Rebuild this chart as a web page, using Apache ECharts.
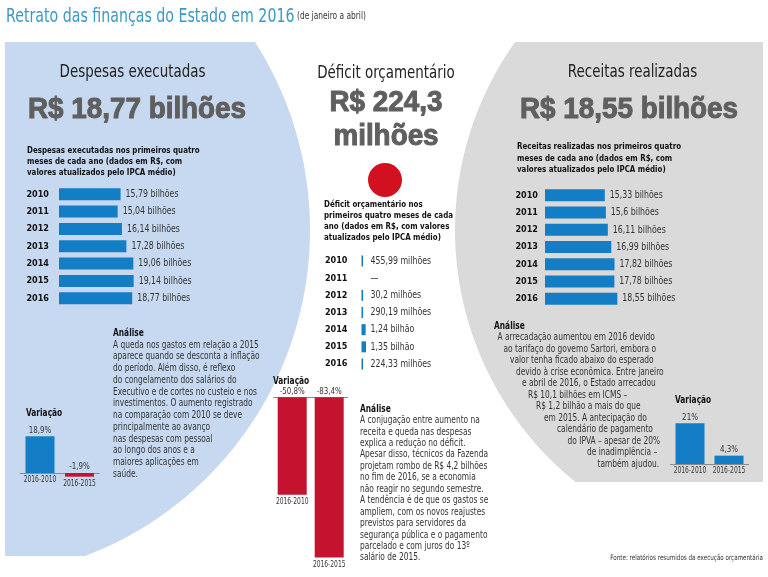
<!DOCTYPE html>
<html><head><meta charset="utf-8">
<script src="https://cdn.jsdelivr.net/npm/echarts@6/dist/echarts.min.js"></script>
<style>html,body{margin:0;padding:0;background:#fff}#c{width:768px;height:577px}</style>
</head><body><div id="c"></div>
<script>
// ---- data ----
const years = ['2010', '2011', '2012', '2013', '2014', '2015', '2016'];
const despesas = [15.79, 15.04, 16.14, 17.28, 19.06, 19.14, 18.77];   // R$ bilhões
const receitas = [15.33, 15.6, 16.11, 16.99, 17.82, 17.78, 18.55];    // R$ bilhões
const deficit = [455.99, null, 30.2, 290.19, 1240, 1350, 224.33];     // R$ milhões
const varCats = ['2016-2010', '2016-2015'];
const varDespesas = [18.9, -1.9];
const varDeficit = [-50.8, -83.4];
const varReceitas = [21, 4.3];

const analiseDespesas = [
  'A queda nos gastos em relação a 2015', 'aparece quando se desconta a inflação',
  'do período. Além disso, é reflexo', 'do congelamento dos salários do',
  'Executivo e de cortes no custeio e nos', 'investimentos. O aumento registrado',
  'na comparação com 2010 se deve', 'principalmente ao avanço', 'nas despesas com pessoal',
  'ao longo dos anos e a', 'maiores aplicações em', 'saúde.'];
const analiseDeficit = [
  'A conjugação entre aumento na', 'receita e queda nas despesas', 'explica a redução no déficit.',
  'Apesar disso, técnicos da Fazenda', 'projetam rombo de R$ 4,2 bilhões', 'no fim de 2016, se a economia',
  'não reagir no segundo semestre.', 'A tendência é de que os gastos se', 'ampliem, com os novos reajustes',
  'previstos para servidores da', 'segurança pública e o pagamento', 'parcelado e com juros do 13º',
  'salário de 2015.'];
const analiseReceitas = [
  'A arrecadação aumentou em 2016 devido', 'ao tarifaço do governo Sartori, embora o',
  'valor tenha ficado abaixo do esperado', 'devido à crise econômica. Entre janeiro',
  'e abril de 2016, o Estado arrecadou', 'R$ 10,1 bilhões em ICMS –', 'R$ 1,2 bilhão a mais do que',
  'em 2015. A antecipação do', 'calendário de pagamento', 'do IPVA – apesar de 20%',
  'de inadimplência –', 'também ajudou.'];

// ---- styles ----
const NARROW = "'DejaVu Sans Condensed', 'DejaVu Sans', sans-serif";
const BIG = "'Liberation Sans', Arial, sans-serif";
const SX = 0.83;   // horizontal condensing of the text face
const BLUE = '#137dc5', RED = '#c4122f';
const fmt = v => String(v).replace('.', ',');

function T(x, y, text, font, fill, align, sx) {
  return { type: 'text', x: x, y: y, z: 10, silent: true, scaleX: sx == null ? SX : sx,
    style: { text: text, font: font, fill: fill || '#222', align: align || 'left', verticalAlign: 'middle',
      textAlign: align || 'left', textVerticalAlign: 'middle' } };
}
function bigT(x, y, text) {
  const el = T(x, y, text, 'bold 29px ' + BIG, '#5f5f5f', 'center', 0.96);
  el.style.stroke = '#5f5f5f';
  el.style.lineWidth = 1;
  return el;
}
function lines(x, y0, step, arr, font, fill) {
  return arr.map((s, i) => T(Array.isArray(x) ? x[i] : x, y0 + i * step, s, font, fill));
}
// polygon for a panel bounded by a circular arc between two y levels
function arcPanel(cx, cy, r, yTop, yBot, sideX, sign) {
  const pts = [[sideX, yTop]];
  const n = 80;
  for (let i = 0; i <= n; i++) {
    const y = yTop + (yBot - yTop) * i / n;
    const dx = Math.sqrt(Math.max(0, r * r - (y - cy) * (y - cy)));
    pts.push([cx + sign * dx, y]);
  }
  pts.push([sideX, yBot]);
  return pts;
}

const g = [];
g.push({ type: 'polygon', z: -100, silent: true, shape: { points: arcPanel(-38.8, 230, 348.8, 42, 556, 5, 1) }, style: { fill: '#c7d9f0' } });
g.push({ type: 'polygon', z: -100, silent: true, shape: { points: arcPanel(778.8, 230, 323.8, 42, 482, 763, -1) }, style: { fill: '#dadada' } });
g.push({ type: 'circle', z: -50, silent: true, shape: { cx: 385, cy: 180, r: 17 }, style: { fill: '#d3101f' } });

// title
g.push(T(6, 17, 'Retrato das finanças do Estado em 2016', '19px ' + NARROW, '#3d98c2'));
g.push(T(297, 16, '(de janeiro a abril)', '10px ' + NARROW, '#333'));

// headings
g.push(T(132.5, 72.5, 'Despesas executadas', '18px ' + NARROW, '#222', 'center'));
g.push(T(632.5, 72.5, 'Receitas realizadas', '18px ' + NARROW, '#222', 'center'));
g.push(T(386, 73.5, 'Déficit orçamentário', '18px ' + NARROW, '#222', 'center'));
g.push(bigT(137, 110, 'R$ 18,77 bilhões'));
g.push(bigT(629, 110, 'R$ 18,55 bilhões'));
g.push(bigT(386, 103, 'R$ 224,3'));
g.push(bigT(386, 137, 'milhões'));

// chart descriptions
const HB = 'bold 9.5px ' + NARROW;
g.push(...lines(27, 150.7, 11, ['Despesas executadas nos primeiros quatro', 'meses de cada ano (dados em R$, com', 'valores atualizados pelo IPCA médio)'], HB, '#111'));
g.push(...lines(517, 147, 11.2, ['Receitas realizadas nos primeiros quatro', 'meses de cada ano (dados em R$, com', 'valores atualizados pelo IPCA médio)'], HB, '#111'));
g.push(...lines(324, 205, 10.9, ['Déficit orçamentário nos', 'primeiros quatro meses de cada', 'ano (dados em R$, com valores', 'atualizados pelo IPCA médio)'], HB, '#111'));

// analysis texts
const TX = '10px ' + NARROW;
g.push(T(113, 333.5, 'Análise', 'bold 10px ' + NARROW, '#111'));
g.push(...lines(113, 345, 11.75, analiseDespesas, TX, '#333'));
g.push(T(360, 409, 'Análise', 'bold 10px ' + NARROW, '#111'));
g.push(...lines(360, 420.5, 11.45, analiseDeficit, TX, '#333'));
g.push(T(494, 326.5, 'Análise', 'bold 10px ' + NARROW, '#111'));
g.push(...lines([497.5, 503.5, 510, 516, 522, 528, 536, 544, 557, 567.5, 587, 597.5], 337.5, 11.5, analiseReceitas, TX, '#333'));

// variation titles
g.push(T(26, 413, 'Variação', 'bold 10px ' + NARROW, '#111'));
g.push(T(273, 381, 'Variação', 'bold 10px ' + NARROW, '#111'));
g.push(T(675, 400, 'Variação', 'bold 10px ' + NARROW, '#111'));

// source
g.push(T(763, 558, 'Fonte: relatórios resumidos da execução orçamentária', '7.5px ' + NARROW, '#333', 'right'));

// ---- grids / axes ----
const grids = [
  { left: 59, top: 185.6, width: 156, height: 121.3 },
  { left: 545, top: 186.7, width: 156, height: 120.6 },
  { left: 361.5, top: 252.4, width: 100, height: 120.2 },
  { left: 20.25, top: 434.2, width: 79, height: 58.2 },
  { left: 273.7, top: 378.1, width: 74, height: 192 },
  { left: 670.5, top: 405.8, width: 78, height: 77.6 }
];
const yearAxis = (gi, margin) => ({ type: 'category', gridIndex: gi, data: years, inverse: true,
  axisLine: { show: false }, axisTick: { show: false },
  axisLabel: { margin: margin, fontFamily: NARROW, fontWeight: 'bold', fontSize: 9, color: '#111' } });
const valAxisH = (gi, max) => ({ type: 'value', gridIndex: gi, min: 0, max: max, show: false });
const catAxisV = gi => ({ type: 'category', gridIndex: gi, data: varCats, axisLabel: { show: false },
  axisTick: { show: false }, axisLine: { show: true, onZero: true, lineStyle: { color: '#8a8a8a', width: 1 } } });
const valAxisV = (gi, min, max) => ({ type: 'value', gridIndex: gi, min: min, max: max, show: false });

const xAxes = [valAxisH(0, 40), valAxisH(1, 40), valAxisH(2, 30000), catAxisV(3), catAxisV(4), catAxisV(5)];
const yAxes = [yearAxis(0, 10), yearAxis(1, 7), yearAxis(2, 14), valAxisV(3, -10, 20), valAxisV(4, -90, 10), valAxisV(5, -10, 30)];

const LBL = '10.5px ' + NARROW;
function txtEl(x, y, text, font, align) {
  return { type: 'text', x: x, y: y, scaleX: SX,
    style: { text: text, font: font, fill: '#333', align: align, verticalAlign: 'middle',
      textAlign: align, textVerticalAlign: 'middle' } };
}
// value labels for the horizontal bar charts, placed through the axis scales
function hLabels(gi, vals, textOf, fromZero, offset) {
  return { type: 'custom', xAxisIndex: gi, yAxisIndex: gi, silent: true, z: 5,
    data: vals.map((v, i) => [v == null ? 0 : v, i]),
    renderItem: (params, api) => {
      const i = params.dataIndex;
      const p = api.coord([fromZero ? 0 : api.value(0), api.value(1)]);
      return txtEl(p[0] + offset, p[1], textOf(vals[i]), LBL, 'left');
    } };
}
// value + category labels for the variation charts
function vLabels(gi, vals) {
  return { type: 'custom', xAxisIndex: gi, yAxisIndex: gi, silent: true, z: 5,
    data: vals.map((v, i) => [i, v]),
    renderItem: (params, api) => {
      const i = params.dataIndex, v = vals[i];
      const top = api.coord([i, Math.max(v, 0)]);
      const bot = api.coord([i, Math.min(v, 0)]);
      return { type: 'group', children: [
        txtEl(top[0], top[1] - 6, fmt(v) + '%', '9.5px ' + NARROW, 'center'),
        txtEl(bot[0], bot[1] + 7, varCats[i], '8px ' + NARROW, 'center')
      ] };
    } };
}

const series = [
  { type: 'bar', xAxisIndex: 0, yAxisIndex: 0, data: despesas, barWidth: 12, itemStyle: { color: BLUE } },
  hLabels(0, despesas, v => fmt(v) + ' bilhões', false, 5),
  { type: 'bar', xAxisIndex: 1, yAxisIndex: 1, data: receitas, barWidth: 12, itemStyle: { color: BLUE } },
  hLabels(1, receitas, v => fmt(v) + ' bilhões', false, 5),
  { type: 'bar', xAxisIndex: 2, yAxisIndex: 2, barWidth: 11, barMinHeight: 1.6, itemStyle: { color: BLUE },
    data: deficit.map(v => v == null ? { value: 0, itemStyle: { opacity: 0 } } : v) },
  hLabels(2, deficit, v => v == null ? '—' : (v >= 1000 ? fmt(v / 1000) + ' bilhão' : fmt(v) + ' milhões'), true, 9)
];
function varBars(gi, vals) {
  return { type: 'bar', xAxisIndex: gi, yAxisIndex: gi, barWidth: 29,
    data: vals.map(v => ({ value: v, itemStyle: { color: v < 0 ? RED : BLUE } })) };
}
series.push(varBars(3, varDespesas), vLabels(3, varDespesas),
            varBars(4, varDeficit), vLabels(4, varDeficit),
            varBars(5, varReceitas), vLabels(5, varReceitas));

const chart = echarts.init(document.getElementById('c'), null, { renderer: 'canvas' });
chart.setOption({
  animation: false,
  backgroundColor: '#fff',
  grid: grids,
  xAxis: xAxes,
  yAxis: yAxes,
  series: series,
  graphic: { elements: g }
});
</script>
</body></html>
